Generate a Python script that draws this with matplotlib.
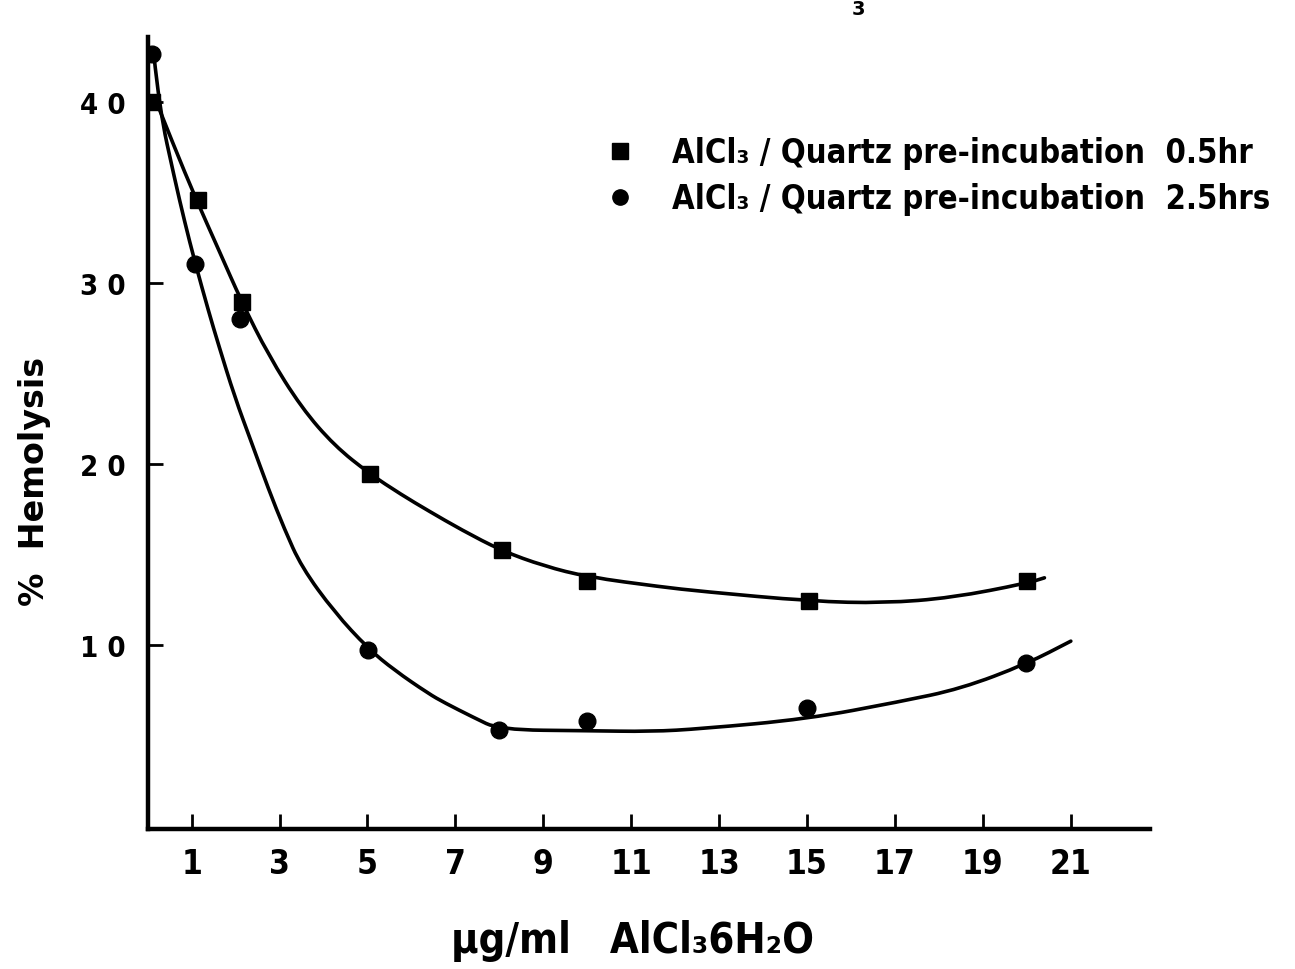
import matplotlib
matplotlib.use("Agg")
import matplotlib.pyplot as plt
from matplotlib.lines import Line2D
from matplotlib.path import Path
from matplotlib.patches import PathPatch

x_sq = [0.1, 1.15, 2.15, 5.05, 8.05, 10.0, 15.05, 20.0]
y_sq = [40.0, 34.6, 28.95, 19.45, 15.25, 13.5, 12.4, 13.5]

x_ci = [0.1, 1.07, 2.1, 5.02, 8.0, 10.0, 15.0, 19.98]
y_ci = [42.65, 31.05, 28.0, 9.72, 5.3, 5.8, 6.5, 9.0]

# courbes tracees a la main
cx_sq = [0.2, 0.61, 1.07, 1.64, 2.14, 2.75, 3.5, 4.25, 5.05, 5.77, 6.39, 7.14, 8.05,
         9.02, 10.0, 11.68, 12.6, 15.1, 16.75, 18.3, 20.0, 20.4]
cy_sq = [40.0, 37.5, 34.8, 31.7, 28.95, 26.0, 23.1, 21.0, 19.45, 18.3, 17.4, 16.35, 15.2,
         14.35, 13.75, 13.2, 12.95, 12.4, 12.3, 12.6, 13.4, 13.7]

cx_ci = [0.14, 0.27, 0.61, 0.84, 1.07, 1.39, 1.61, 1.98, 2.36, 2.75, 3.11, 3.5, 4.25,
         5.02, 5.61, 6.39, 6.75, 7.4, 8.0, 10.0, 11.45, 12.6, 15.0, 17.1, 18.5, 20.0, 21.0]
cy_ci = [42.65, 39.6, 35.8, 33.4, 31.2, 28.4, 26.6, 23.7, 21.2, 18.6, 16.4, 14.3, 11.8,
         9.78, 8.6, 7.3, 6.8, 6.0, 5.3, 5.25, 5.2, 5.36, 5.9, 6.85, 7.57, 8.95, 10.2]

xticks = [1, 3, 5, 7, 9, 11, 13, 15, 17, 19, 21]
yticks = [10, 20, 30, 40]

lab_sq = "AlCl₃ / Quartz pre-incubation  0.5hr"
lab_ci = "AlCl₃ / Quartz pre-incubation  2.5hrs"

fam = ["DejaVu Sans"]


def courbe(ax, xs, ys):
    # trace lisse : bezier quadratique passant par les milieux
    pts = list(zip(xs, ys))
    verts = [pts[0]]
    codes = [Path.MOVETO]
    for i in range(1, len(pts) - 1):
        mx = (pts[i][0] + pts[i + 1][0]) / 2
        my = (pts[i][1] + pts[i + 1][1]) / 2
        verts += [pts[i], (mx, my)]
        codes += [Path.CURVE3, Path.CURVE3]
    verts.append(pts[-1])
    codes.append(Path.LINETO)
    ax.add_patch(PathPatch(Path(verts, codes), fill=False, lw=2.6, ec="k",
                           capstyle="round", joinstyle="round"))


fig = plt.figure(figsize=(12.95, 9.70), dpi=100)
ax = fig.add_axes([0.114, 0.144, 0.774, 0.817])

courbe(ax, cx_sq, cy_sq)
courbe(ax, cx_ci, cy_ci)
ax.plot(x_sq, y_sq, "ks", ms=12, ls="none")
ax.plot(x_ci, y_ci, "ko", ms=12, ls="none")

ax.set_xlim(0, 22.8)
ax.set_ylim(-0.2, 43.6)
for s in ["top", "right"]:
    ax.spines[s].set_visible(False)
for s in ["left", "bottom"]:
    ax.spines[s].set_linewidth(3.2)

ax.set_xticks(xticks)
ax.set_yticks(yticks)
ax.set_xticklabels([str(v) for v in xticks], family=fam, fontstretch="condensed",
                   fontweight="bold", fontsize=24)
ax.set_yticklabels([" ".join(str(v)) for v in yticks], family=fam, fontstretch="condensed",
                   fontweight="bold", fontsize=21)
ax.tick_params(axis="both", direction="in", length=11, width=2)
ax.tick_params(axis="x", pad=13)
ax.tick_params(axis="y", pad=16)

ax.set_xlabel("μg/ml   AlCl₃6H₂O", family=fam, fontstretch="condensed",
              fontweight="bold", fontsize=30)
ax.xaxis.set_label_coords(0.484, -0.113)
ax.set_ylabel("%  Hemolysis", fontweight="bold", fontsize=24)
ax.yaxis.set_label_coords(-0.096, 0.44)

h = [Line2D([], [], color="k", marker="s", ls="none", ms=11),
     Line2D([], [], color="k", marker="o", ls="none", ms=11)]
leg = ax.legend(h, [lab_sq, lab_ci], loc="upper left", bbox_to_anchor=(0.422, 0.912),
                frameon=False, handletextpad=1.0, handlelength=1.2, labelspacing=0.4,
                prop={"family": fam, "stretch": "condensed", "weight": "bold", "size": 23.5})

fig.text(0.658, 1.0, "3", family=fam, fontweight="bold", fontsize=14, va="top")

plt.savefig("out.png", dpi=100)
